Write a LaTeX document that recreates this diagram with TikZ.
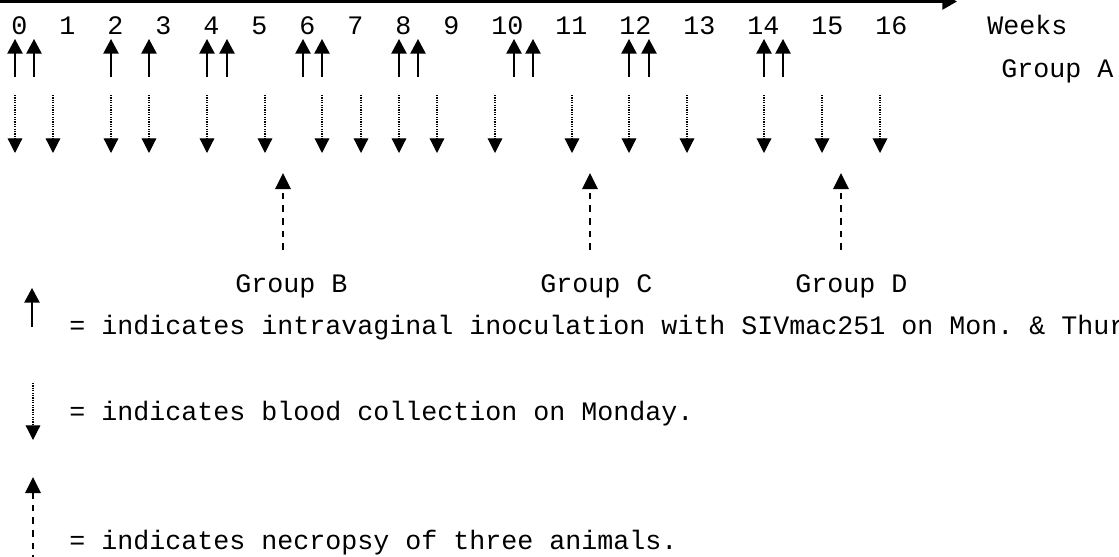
\documentclass[tikz,border=0pt]{standalone}
\usepackage{fontspec}
\setmonofont{Liberation Mono}
\usetikzlibrary{arrows.meta}
\begin{document}
\begin{tikzpicture}[x=0.75pt,y=-0.75pt,
  lbl/.style={inner sep=0pt, anchor=base west, font=\ttfamily\fontsize{20}{24}\selectfont},
  axisline/.style={line width=1.9pt, -{Triangle[length=11pt,width=12pt]}},
  inoc/.style={line width=1.1pt, -{Triangle[length=11pt,width=11.5pt]}},
  blood/.style={line width=0.9pt, dash pattern=on 0.9pt off 0.9pt, -{Triangle[length=11pt,width=11pt]}},
  necro/.style={line width=1.3pt, dash pattern=on 5pt off 4.5pt, -{Triangle[length=12pt,width=11.5pt]}}
]
\useasboundingbox (0,0) rectangle (1119,556);
\clip (0,0) rectangle (1119,556);

% time axis
\coordinate (axS) at (0,1.5);
\coordinate (axE) at (957,1.5);
\draw[axisline] (axS) -- (axE);

% week labels
\foreach \n/\x in {0/11,1/59,2/107,3/155,4/203,5/251,6/299,7/347,8/395,9/443,
                   10/491,11/555,12/619,13/683,14/747,15/811,16/875}
  \node[lbl] (w\n) at (\x,35) {\n};
\node[lbl] (weeks) at (987,35) {Weeks};
\node[lbl] (grA) at (1001,78) {Group A};

% inoculations (Mon. & Thur.)
\foreach \x [count=\i] in {15,34,111,149,207,227,303,322,399,418,514,533,629,649,764,783}{
  \coordinate (iS\i) at (\x,77);
  \coordinate (iE\i) at (\x,39);
  \draw[inoc] (iS\i) -- (iE\i);
}

% blood collections (Monday)
\foreach \x [count=\i] in {15,53,111,149,207,265,322,361,399,437,495,572,629,687,764,822,880}{
  \coordinate (bS\i) at (\x,95);
  \coordinate (bE\i) at (\x,153);
  \draw[blood] (bS\i) -- (bE\i);
}

% necropsies
\foreach \x/\g in {283/B,590/C,841/D}{
  \coordinate (nS\g) at (\x,250);
  \coordinate (nE\g) at (\x,173);
  \draw[necro] (nS\g) -- (nE\g);
}
\node[lbl] (grB) at (235,292) {Group B};
\node[lbl] (grC) at (540,292) {Group C};
\node[lbl] (grD) at (795,292) {Group D};

% legend
\coordinate (l1S) at (32,327); \coordinate (l1E) at (32,288);
\draw[inoc] (l1S) -- (l1E);
\node[lbl] (t1) at (69,334) {= indicates intravaginal inoculation with SIVmac251 on Mon. \& Thur};

\coordinate (l2S) at (33,383); \coordinate (l2E) at (33,440);
\draw[blood] (l2S) -- (l2E);
\node[lbl] (t2) at (69,420) {= indicates blood collection on Monday.};

\coordinate (l3S) at (33,562); \coordinate (l3E) at (33,477);
\draw[necro] (l3S) -- (l3E);
\node[lbl] (t3) at (69,549) {= indicates necropsy of three animals.};
\end{tikzpicture}
\end{document}
